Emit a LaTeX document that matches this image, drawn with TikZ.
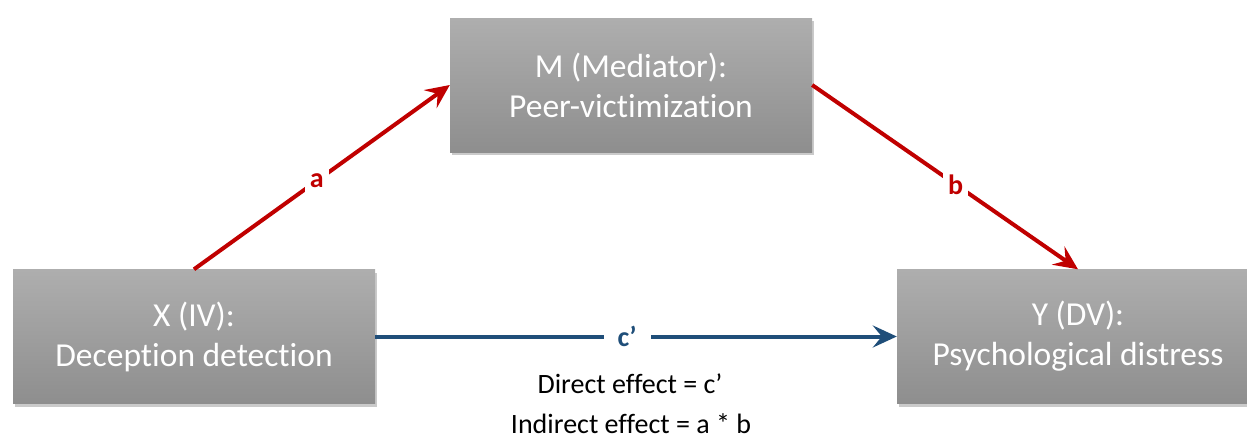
\documentclass[tikz,border=0pt]{standalone}
\usepackage{fontspec}
\setmainfont{Carlito}[Ligatures=NoCommon, RawFeature={-liga;-clig;-dlig}]
\usetikzlibrary{arrows.meta,shadows}
\definecolor{pathred}{HTML}{C00000}
\definecolor{pathblue}{HTML}{1F4E79}
\definecolor{boxtop}{HTML}{AEAEAE}
\definecolor{boxbot}{HTML}{8E8E8E}
\tikzset{
  varbox/.style={rectangle, minimum width=362pt, minimum height=134pt,
    top color=boxtop, bottom color=boxbot, text=white, align=center,
    font=\fontsize{33.5}{40}\selectfont,
    drop shadow={shadow xshift=1.5pt, shadow yshift=-3pt, opacity=0.35, fill=black!60}},
  redpath/.style={draw=pathred, line width=4pt,
    -{Stealth[length=24pt, width=22pt, inset=9pt]}},
  bluepath/.style={draw=pathblue, line width=4pt,
    -{Stealth[length=24pt, width=22pt, inset=9pt]}},
  pathlabel/.style={font=\bfseries\fontsize{28}{30}\selectfont, fill=white, inner sep=5pt},
  note/.style={font=\fontsize{28}{32}\selectfont, text=black}
}
\begin{document}
\begin{tikzpicture}[x=1pt,y=-1pt]
  \useasboundingbox (0,0) rectangle (1247,439);
  \clip (0,0) rectangle (1247,439);
  \node[varbox] (X) at (194,336.5) {X (IV):\\Deception detection};
  \node[varbox] (M) at (631,85) {M (Mediator):\\Peer-victimization};
  \node[varbox] (Y) at (1078,336.5) {Y (DV):\\Psychological distress};
  \draw[redpath] (X.north) -- node[pathlabel, text=pathred, pos=0.48] (la) {a} (M.west);
  \draw[redpath] (M.east) -- node[pathlabel, text=pathred, pos=0.54] (lb) {b} (Y.north);
  \draw[bluepath] (X.east) -- node[pathlabel, text=pathblue, pos=0.483, inner xsep=14pt] (lc) {c’} (Y.west);
  \node[note] (direct) at (630,384) {Direct effect = c’};
  \node[note] (indirect) at (631,424) {Indirect effect = a * b};
\end{tikzpicture}
\end{document}
